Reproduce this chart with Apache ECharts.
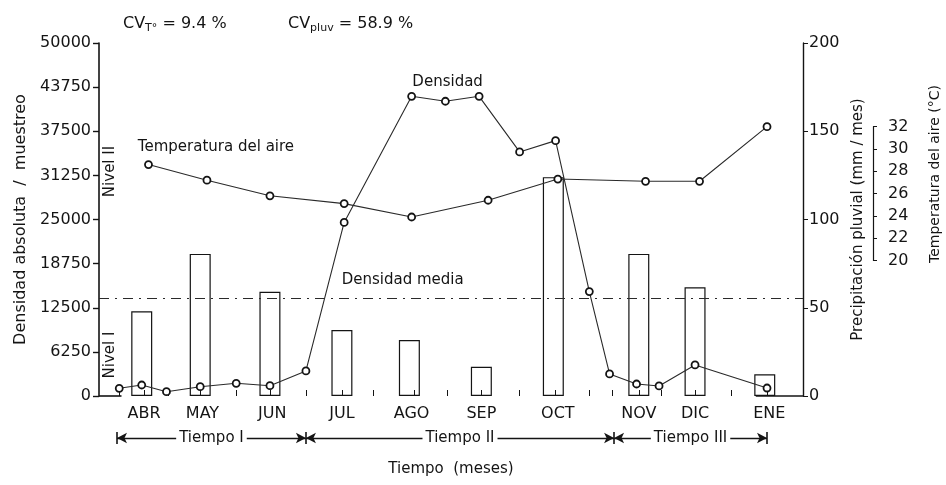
<!DOCTYPE html>
<html><head><meta charset="utf-8">
<script src="https://cdn.jsdelivr.net/npm/echarts@6/dist/echarts.min.js"></script>
<style>html,body{margin:0;padding:0;background:#fff}#c{width:946px;height:485px}</style>
</head><body><div id="c"></div>
<script>
// ---- data (x in days from the start of the axis) ----
const months = ['ABR','MAY','JUN','JUL','AGO','SEP','OCT','NOV','DIC','ENE'];
const monthPos = [20,46,77,108,139,170,204,240,265,298];
const sampleDays = [9,19,30,45,61,76,92,109,139,154,169,187,203,218,227,239,249,265,297];
const densidad = [1090,1560,610,1320,1800,1460,3550,24580,42450,41750,42450,34570,36170,14790,3120,1700,1420,4400,1130];
const tempDays = [22,48,76,109,139,173,204,243,267,297];
const temperatura = [28.6,27.2,25.8,25.1,23.9,25.4,27.3,27.1,27.1,32.0];
const precipDays = [19,45,76,108,138,170,202,240,265,296];
const precipitacion = [48,80.5,59,37.4,31.7,16.6,124,80.5,61.6,12.3];
const tickDays = [9,20,31,45,61,76,92,108,122,140,155,170,187,203,218,228,240,250,265,281,297];
const densidadMedia = 13900;
const tiempoBounds = [8,92,229,297];
const tiempoNames = ['Tiempo I','Tiempo II','Tiempo III'];
const tempAxisTicks = [20,32];

// ---- layout ----
const FONT = 'DejaVu Sans';
const INK = '#141414';
const X_MAX = 313;
const G = {left:99, right:143, top:43, bottom:89};
const GH = 485 - G.top - G.bottom;
const TMIN = 7.85, TMAX = 39.5;   // hidden scale of the temperature curve
const tTop = G.top + (TMAX - tempAxisTicks[1]) / (TMAX - TMIN) * GH;
const tH = (tempAxisTicks[1] - tempAxisTicks[0]) / (TMAX - TMIN) * GH;

const chart = echarts.init(document.getElementById('c'), null, {renderer:'canvas'});
const txt = (s, o) => Object.assign({color: INK, fontFamily: FONT, fontSize: s}, o || {});
const pairs = (xs, ys) => xs.map((x,i)=>[x, ys[i]]);
const plain = v => String(v);

const option = {
  animation: false,
  backgroundColor: '#fff',
  textStyle: {fontFamily: FONT, color: INK},
  grid: [
    {left:G.left, right:G.right, top:G.top, bottom:G.bottom},
    {left:873, width:10, top:tTop, height:tH},
    {left:G.left, right:G.right, top:432, height:12}
  ],
  xAxis: [
    {gridIndex:0, type:'value', min:0, max:X_MAX,
     axisLine:{show:false}, splitLine:{show:false},
     axisTick:{show:true, customValues: tickDays, inside:true, length:6, lineStyle:{color:INK, width:1}},
     axisLabel:{customValues: monthPos, formatter: v => months[monthPos.indexOf(v)] || '', margin:10, ...txt(16)},
     name:'Tiempo  (meses)', nameLocation:'middle', nameGap:66, nameTextStyle: txt(15)},
    {gridIndex:1, type:'value', show:false},
    {gridIndex:2, type:'value', min:0, max:X_MAX, show:false}
  ],
  yAxis: [
    {gridIndex:0, type:'value', position:'left', min:0, max:50000, interval:6250,
     axisLine:{show:true, lineStyle:{color:INK, width:1.6}},
     axisTick:{show:true, length:6, lineStyle:{color:INK, width:1.4}},
     splitLine:{show:false},
     axisLabel:{margin:8, formatter: plain, ...txt(16)},
     name:'Densidad absoluta  /  muestreo', nameLocation:'middle', nameGap:64, nameTextStyle: txt(16)},
    {gridIndex:0, type:'value', position:'right', min:0, max:200, interval:50,
     axisLine:{show:true, lineStyle:{color:INK, width:1.4}},
     axisTick:{show:true, length:5, lineStyle:{color:INK}},
     splitLine:{show:false},
     axisLabel:{margin:6, formatter: plain, ...txt(16)},
     name:'Precipitación pluvial (mm / mes)', nameLocation:'middle', nameGap:46, nameTextStyle: txt(15)},
    {gridIndex:0, type:'value', min:TMIN, max:TMAX, show:false},
    {gridIndex:1, type:'value', position:'right', min:tempAxisTicks[0], max:tempAxisTicks[1], interval:2,
     axisLine:{show:true, lineStyle:{color:INK, width:1.2}},
     axisTick:{show:true, length:4, lineStyle:{color:INK}},
     splitLine:{show:false},
     axisLabel:{margin:5, formatter: plain, ...txt(16)}},
    {gridIndex:2, type:'value', min:0, max:1, show:false}
  ],
  series: [
    {type:'bar', xAxisIndex:0, yAxisIndex:1, barWidth:21,
     data: pairs(precipDays, precipitacion),
     itemStyle:{color:'rgba(0,0,0,0)', borderColor:INK, borderWidth:1.2},
     markLine:{silent:true, symbol:'none', label:{show:false}, lineStyle:{color:INK, type:'solid', width:1.6},
       data:[[{coord:[0,0]},{coord:[10,0]}],[{coord:[292,0]},{coord:[X_MAX,0]}]]}},
    {type:'line', name:'Densidad', xAxisIndex:0, yAxisIndex:0,
     data: pairs(sampleDays, densidad),
     symbol:'circle', symbolSize:7,
     itemStyle:{color:'#fff', borderColor:INK, borderWidth:1.8},
     lineStyle:{color:'#2a2a2a', width:1.1},
     markLine:{silent:true, symbol:'none', label:{show:false},
       lineStyle:{color:'#2a2a2a', type:[10,6,2,6], width:1},
       data:[{yAxis: densidadMedia}]},
     markPoint:{silent:true, symbol:'rect', symbolSize:1, itemStyle:{color:'rgba(0,0,0,0)'},
       label:{show:true, position:'inside', formatter:'{b}', ...txt(15)},
       data:[
         {name:'Densidad', coord:[155,44500]},
         {name:'Temperatura del aire', coord:[52,35300]},
         {name:'Densidad media', coord:[135,16450]},
         {name:'Nivel II', coord:[5,31800], label:{rotate:90}},
         {name:'Nivel I', coord:[5,5800], label:{rotate:90}}
       ]}},
    {type:'line', name:'Temperatura', xAxisIndex:0, yAxisIndex:2,
     data: pairs(tempDays, temperatura),
     symbol:'circle', symbolSize:7,
     itemStyle:{color:'#fff', borderColor:INK, borderWidth:1.8},
     lineStyle:{color:'#2a2a2a', width:1.1}},
    {type:'line', xAxisIndex:2, yAxisIndex:4, data:[],
     markLine:{silent:true, symbol:['arrow','arrow'], symbolSize:[8,10],
       lineStyle:{color:INK, type:'solid', width:1.4},
       label:{show:true, position:'middle', distance:0, verticalAlign:'middle', formatter:'{b}',
              backgroundColor:'#fff', padding:[0,3], ...txt(15)},
       data: tiempoNames.map((n,i)=>[{name:n, coord:[tiempoBounds[i],0.5]},{coord:[tiempoBounds[i+1],0.5]}])}},
    {type:'line', xAxisIndex:2, yAxisIndex:4, data:[],
     markLine:{silent:true, symbol:'none', label:{show:false},
       lineStyle:{color:INK, type:'solid', width:1.6},
       data: tiempoBounds.map(b=>({xAxis:b}))}}
  ],
  graphic: [
    {type:'text', left:123, top:13, style:{
      text:'{n|CV}{s|T°}{n| = 9.4 %}',
      rich:{n:{fontSize:16, fontFamily:FONT, fill:INK, lineHeight:20},
            s:{fontSize:11, fontFamily:FONT, fill:INK, padding:[10,0,0,0], lineHeight:20}}}},
    {type:'text', left:288, top:13, style:{
      text:'{n|CV}{s|pluv}{n| = 58.9 %}',
      rich:{n:{fontSize:16, fontFamily:FONT, fill:INK, lineHeight:20},
            s:{fontSize:11, fontFamily:FONT, fill:INK, padding:[10,0,0,0], lineHeight:20}}}},
    {type:'text', x:935, y:174, rotation:Math.PI/2, style:{
      text:'Temperatura del aire (°C)', fontSize:14, fontFamily:FONT, fill:INK,
      align:'center', verticalAlign:'middle'}}
  ]
};
chart.setOption(option);
</script></body></html>
